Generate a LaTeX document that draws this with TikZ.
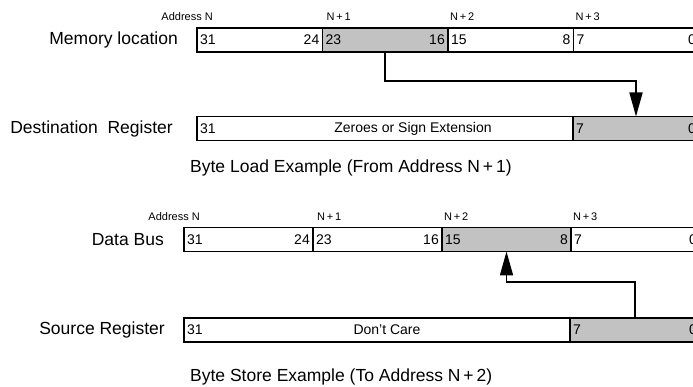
\documentclass[tikz,border=0pt]{standalone}
\usepackage{fontspec}
\setmainfont{Liberation Sans}
\usetikzlibrary{arrows.meta,positioning}

\begin{document}
\begin{tikzpicture}[x=1pt, y=-1pt,
    field/.style={draw, line width=1.7pt, minimum height=24pt, inner sep=0pt, outer sep=0pt},
    shaded/.style={field, fill=black!24},
    bitno/.style={font=\fontsize{14}{14}\selectfont, inner sep=3pt},
    rowlabel/.style={font=\fontsize{17.5}{18}\selectfont, anchor=east, inner sep=0pt},
    addr/.style={font=\fontsize{11}{11}\selectfont, anchor=south west, inner sep=0pt},
    caption/.style={font=\fontsize{17.5}{18}\selectfont, anchor=west, inner sep=0pt},
    move/.style={line width=1.7pt, -{Triangle[length=24pt,width=13pt]}},
]
\useasboundingbox (0,0) rectangle (693,387);
\clip (0,0) rectangle (693,387);

% Byte load: memory word
\node[field, minimum width=125.5pt, anchor=west] (m3) at (197,40) {};
\node[shaded, minimum width=125.5pt, right=0pt of m3] (m2) {};
\node[field, minimum width=125.5pt, right=0pt of m2] (m1) {};
\node[field, minimum width=125.5pt, right=0pt of m1] (m0) {};
\node[bitno, anchor=west] (m3h) at (m3.west) {31};
\node[bitno, anchor=east] (m3l) at (m3.east) {24};
\node[bitno, anchor=west] (m2h) at (m2.west) {23};
\node[bitno, anchor=east] (m2l) at (m2.east) {16};
\node[bitno, anchor=west] (m1h) at (m1.west) {15};
\node[bitno, anchor=east] (m1l) at (m1.east) {8};
\node[bitno, anchor=west] (m0h) at (m0.west) {7};
\node[bitno, anchor=east] (m0l) at (m0.east) {0};
\node[rowlabel] (mlab) at (178,40) {Memory location};
\node[addr, anchor=south east] (ma3) at ([shift={(16,-7)}]m3.north west) {Address N};
\node[addr] (ma2) at ([shift={(4,-7)}]m2.north west) {N\,+\,1};
\node[addr] (ma1) at ([shift={(2,-7)}]m1.north west) {N\,+\,2};
\node[addr] (ma0) at ([shift={(2,-7)}]m0.north west) {N\,+\,3};

% Byte load: destination register
\node[field, minimum width=376pt, anchor=west] (dhi) at (197,128.5) {};
\node[shaded, minimum width=126pt, right=0pt of dhi] (d0) {};
\node[bitno, anchor=west] (dh) at (dhi.west) {31};
\node[bitno] (dext) at (413,128.5) {Zeroes or Sign Extension};
\node[bitno, anchor=west] (d0h) at (d0.west) {7};
\node[bitno, anchor=east] (d0l) at (d0.east) {0};
\node[rowlabel] (dlab) at (173,128.5) {Destination~~Register};
\node[caption] (cap1) at (190,168) {Byte Load Example (From Address N\,+\,1)};

\draw[move] (m2.south) -- ++(0,29) -| (d0.north);

% Byte store: data bus
\node[field, minimum width=129pt, anchor=west] (b3) at (184,239.5) {};
\node[field, minimum width=129pt, right=0pt of b3] (b2) {};
\node[shaded, minimum width=129pt, right=0pt of b2] (b1) {};
\node[field, minimum width=129pt, right=0pt of b1] (b0) {};
\node[bitno, anchor=west] (b3h) at (b3.west) {31};
\node[bitno, anchor=east] (b3l) at (b3.east) {24};
\node[bitno, anchor=west] (b2h) at (b2.west) {23};
\node[bitno, anchor=east] (b2l) at (b2.east) {16};
\node[bitno, anchor=west] (b1h) at (b1.west) {15};
\node[bitno, anchor=east] (b1l) at (b1.east) {8};
\node[bitno, anchor=west] (b0h) at (b0.west) {7};
\node[bitno, anchor=east] (b0l) at (b0.east) {0};
\node[rowlabel] (blab) at (164,239.5) {Data Bus};
\node[addr, anchor=south east] (ba3) at ([shift={(16,-7)}]b3.north west) {Address N};
\node[addr] (ba2) at ([shift={(4,-7)}]b2.north west) {N\,+\,1};
\node[addr] (ba1) at ([shift={(2,-7)}]b1.north west) {N\,+\,2};
\node[addr] (ba0) at ([shift={(2,-7)}]b0.north west) {N\,+\,3};

% Byte store: source register
\node[field, minimum width=386pt, anchor=west] (shi) at (184,330) {};
\node[shaded, minimum width=130pt, right=0pt of shi] (s0) {};
\node[bitno, anchor=west] (sh) at (shi.west) {31};
\node[bitno] (scare) at (387,330) {Don't Care};
\node[bitno, anchor=west] (s0h) at (s0.west) {7};
\node[bitno, anchor=east] (s0l) at (s0.east) {0};
\node[rowlabel] (slab) at (165,330) {Source Register};
\node[caption] (cap2) at (190,377) {Byte Store Example (To Address N\,+\,2)};

\draw[move] (s0.north) -- ++(0,-36) -| (b1.south);
\end{tikzpicture}
\end{document}
